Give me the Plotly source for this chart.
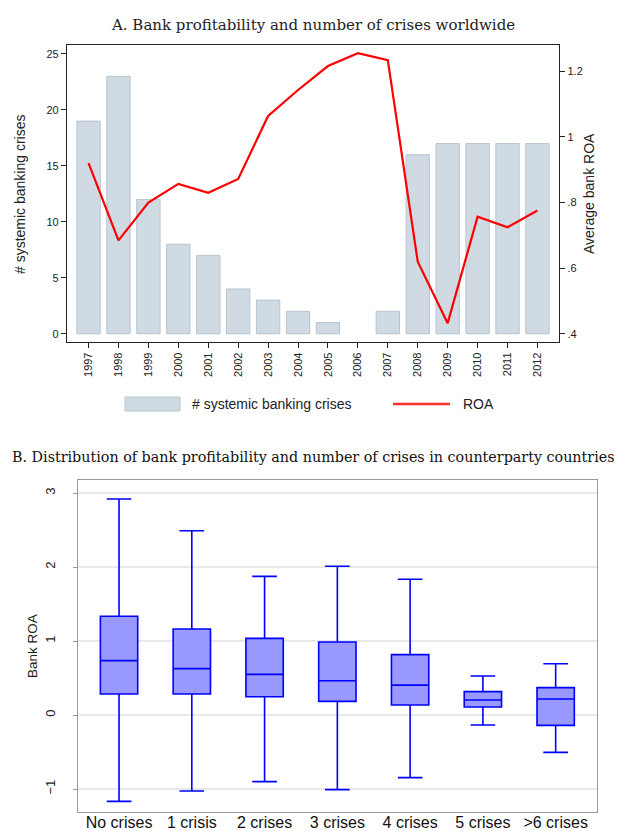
import plotly.graph_objects as go

# ---------------- Data ----------------
years = [1997, 1998, 1999, 2000, 2001, 2002, 2003, 2004, 2005, 2006, 2007, 2008, 2009, 2010, 2011, 2012]
crises = [19, 23, 12, 8, 7, 4, 3, 2, 1, 0, 2, 16, 17, 17, 17, 17]
roa = [0.92, 0.685, 0.80, 0.857, 0.83, 0.872, 1.064, 1.143, 1.216, 1.255, 1.234, 0.62, 0.433, 0.757, 0.725, 0.776]

box_cats = ["No crises", "1 crisis", "2 crises", "3 crises", "4 crises", "5 crises", ">6 crises"]
box_lower = [-1.166, -1.027, -0.90, -1.008, -0.846, -0.135, -0.504]
box_q1 = [0.284, 0.284, 0.248, 0.185, 0.135, 0.108, -0.139]
box_median = [0.735, 0.627, 0.55, 0.464, 0.405, 0.203, 0.216]
box_q3 = [1.334, 1.162, 1.036, 0.987, 0.816, 0.316, 0.37]
box_upper = [2.92, 2.49, 1.874, 2.01, 1.834, 0.527, 0.694]

roa_ticks = [0.4, 0.6, 0.8, 1.0, 1.2]
roa_ticktext = [".4", ".6", ".8", "1", "1.2"]

W, H = 628, 831
def px(x):
    return x / W
def py(y):
    return 1 - y / H

SANS = "Liberation Sans, Arial, sans-serif"
SERIF = "DejaVu Serif, serif"
BAR_FILL = "#d0dae3"
BAR_LINE = "#b7c5d1"

fig = go.Figure()

fig.add_trace(go.Bar(
    x=years, y=crises, xaxis="x", yaxis="y",
    width=0.78,
    marker=dict(color=BAR_FILL,
                line=dict(color=BAR_LINE, width=[0 if c == 0 else 1 for c in crises])),
    showlegend=False, name="# systemic banking crises"))
fig.add_trace(go.Scatter(
    x=years, y=roa, xaxis="x", yaxis="y2", mode="lines",
    line=dict(color="#ff0000", width=2.2), showlegend=False, name="ROA"))

fig.add_trace(go.Box(
    x=box_cats, lowerfence=box_lower, q1=box_q1, median=box_median, q3=box_q3,
    upperfence=box_upper, xaxis="x3", yaxis="y3",
    fillcolor="#9999ff", line=dict(color="#0000ff", width=1.6),
    width=0.513, whiskerwidth=0.66, boxpoints=False, showlegend=False,
    hoverinfo="skip"))

top_dom_y = [py(334), py(37)]
top_dom_x = [px(59), px(551.3)]
bot_dom_y = [py(804), py(472)]
bot_dom_x = [px(70), px(588.7)]

fig.update_layout(
    width=W, height=H, margin=dict(l=0, r=0, t=0, b=0),
    paper_bgcolor="white", plot_bgcolor="white",
    font=dict(family=SANS, color="#222"),
    xaxis=dict(domain=top_dom_x, anchor="y", range=[1996.28, 2012.73],
               tickvals=years, ticktext=[str(y) for y in years], tickangle=-90,
               ticks="outside", ticklen=5, tickcolor="#222", tickfont=dict(size=11, color="#222"),
               showline=True, linecolor="#222", linewidth=1.2, mirror=True,
               showgrid=False, zeroline=False),
    yaxis=dict(domain=top_dom_y, anchor="x", range=[-0.74, 25.8],
               tickvals=[0, 5, 10, 15, 20, 25], ticks="outside", ticklen=5, tickcolor="#222",
               tickfont=dict(size=11, color="#222"),
               showline=True, linecolor="#222", linewidth=1.2, mirror=True,
               showgrid=False, zeroline=False),
    yaxis2=dict(overlaying="y", side="right", anchor="x", range=[0.3756, 1.28],
                tickvals=roa_ticks, ticktext=roa_ticktext, ticks="outside", ticklen=5,
                tickcolor="#222", tickfont=dict(size=11, color="#222"),
                showline=False, showgrid=False, zeroline=False),
    xaxis3=dict(domain=bot_dom_x, anchor="y3", range=[-0.564, 6.564],
                type="category", ticks="", tickfont=dict(size=16, color="#111"),
                ticklabelstandoff=-4,
                showline=True, linecolor="#999", linewidth=1.2, mirror=True,
                showgrid=False, zeroline=False),
    yaxis3=dict(domain=bot_dom_y, anchor="x3", range=[-1.31, 3.176],
                tickvals=[-1, 0, 1, 2, 3], tickangle=-90, ticks="outside", ticklen=4,
                tickcolor="#999", tickfont=dict(size=13, color="#222"),
                ticklabelstandoff=13,
                showline=True, linecolor="#999", linewidth=1.2, mirror=True,
                showgrid=True, gridcolor="#e8e8e8", gridwidth=1.5, zeroline=False),
)

annotations = [
    dict(text="A. Bank profitability and number of crises worldwide", x=px(305), y=py(17),
         xref="paper", yref="paper", showarrow=False, xanchor="center", yanchor="middle",
         font=dict(family=SERIF, size=15, color="#222")),
    dict(text="B. Distribution of bank profitability and number of crises in counterparty countries",
         x=px(305), y=py(449), xref="paper", yref="paper", showarrow=False,
         xanchor="center", yanchor="middle",
         font=dict(family=SERIF, size=14.3, color="#111")),
    dict(text="# systemic banking crises", x=px(12), y=py(186), xref="paper", yref="paper",
         showarrow=False, textangle=-90, xanchor="center", yanchor="middle",
         font=dict(family=SANS, size=14, color="#222")),
    dict(text="Average bank ROA", x=px(581), y=py(186), xref="paper", yref="paper",
         showarrow=False, textangle=-90, xanchor="center", yanchor="middle",
         font=dict(family=SANS, size=14, color="#222")),
    dict(text="Bank ROA", x=px(24), y=py(638), xref="paper", yref="paper",
         showarrow=False, textangle=-90, xanchor="center", yanchor="middle",
         font=dict(family=SANS, size=13.5, color="#222")),
    dict(text="# systemic banking crises", x=px(182), y=py(396), xref="paper", yref="paper",
         showarrow=False, xanchor="left", yanchor="middle",
         font=dict(family=SANS, size=14, color="#222")),
    dict(text="ROA", x=px(453), y=py(396), xref="paper", yref="paper",
         showarrow=False, xanchor="left", yanchor="middle",
         font=dict(family=SANS, size=14, color="#222")),
]
fig.update_layout(annotations=annotations)

fig.update_layout(shapes=[
    dict(type="rect", xref="paper", yref="paper", x0=px(117), x1=px(172), y0=py(403), y1=py(389),
         fillcolor=BAR_FILL, line=dict(color=BAR_LINE, width=1)),
    dict(type="line", xref="paper", yref="paper", x0=px(385), x1=px(442), y0=py(396), y1=py(396),
         line=dict(color="#ff3333", width=2.5)),
])

fig.write_html("out.html")
